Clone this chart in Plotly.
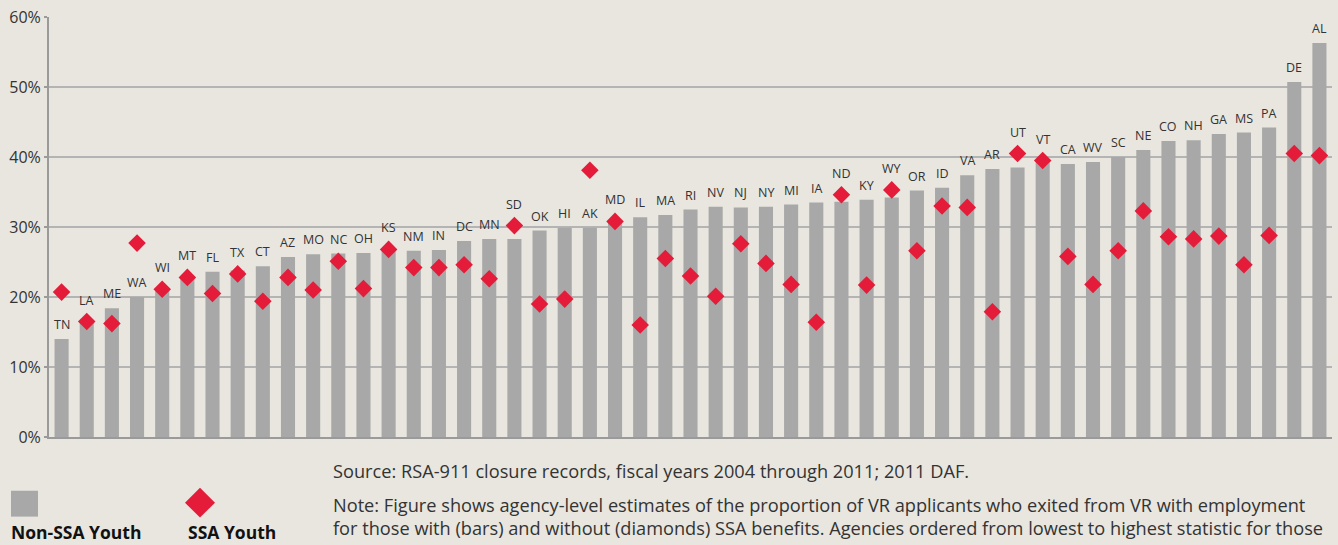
import plotly.graph_objects as go

states = ["TN","LA","ME","WA","WI","MT","FL","TX","CT","AZ","MO","NC","OH","KS","NM","IN",
          "DC","MN","SD","OK","HI","AK","MD","IL","MA","RI","NV","NJ","NY","MI","IA","ND","KY",
          "WY","OR","ID","VA","AR","UT","VT","CA","WV","SC","NE","CO","NH","GA","MS","PA","DE","AL"]

non_ssa = [14.0,16.6,18.4,20.0,21.2,22.8,23.6,23.8,24.4,25.7,26.1,26.2,26.3,27.0,26.6,26.7,
           28.0,28.3,28.3,29.5,29.9,29.9,30.8,31.4,31.7,32.5,32.9,32.8,32.9,33.2,33.5,33.6,33.9,
           34.2,35.2,35.6,37.4,38.3,38.5,39.6,39.0,39.3,40.0,41.0,42.3,42.4,43.3,43.5,44.2,50.7,56.3]

ssa = [20.7,16.5,16.2,27.7,21.1,22.8,20.5,23.3,19.4,22.8,21.0,25.1,21.2,26.8,24.2,24.2,
       24.6,22.6,30.2,19.0,19.7,38.1,30.8,16.0,25.5,23.0,20.1,27.6,24.8,21.8,16.4,34.6,21.7,
       35.3,26.6,33.0,32.8,17.9,40.5,39.5,25.8,21.8,26.6,32.3,28.6,28.3,28.7,24.6,28.8,40.5,40.2]

y_ticks = [0, 10, 20, 30, 40, 50, 60]
y_tick_text = ["0%", "10%", "20%", "30%", "40%", "50%", "60%"]

legend_labels = ["Non-SSA Youth", "SSA Youth"]
source_text = "Source: RSA-911 closure records, fiscal years 2004 through 2011; 2011 DAF."
note_lines = [
    "Note: Figure shows agency-level estimates of the proportion of VR applicants who exited from VR with employment",
    "for those with (bars) and without (diamonds) SSA benefits. Agencies ordered from lowest to highest statistic for those",
]

BG = "#E8E6DF"
BAR = "#A8A8A8"
RED = "#E41C39"
FONT = "Open Sans"
TXT = "#333333"

W, H = 1338, 545
ml, mr, mt, mb = 49, 6, 15, 108
pw, ph = W - ml - mr, H - mt - mb


def px(xp):
    return (xp - ml) / pw


def py(yp):
    return (H - mb - yp) / ph


fig = go.Figure()
fig.add_trace(go.Bar(x=states, y=non_ssa, marker=dict(color=BAR, line=dict(width=0)),
                     width=0.56, name=legend_labels[0]))
fig.add_trace(go.Scatter(x=states, y=ssa, mode="markers", name=legend_labels[1],
                         marker=dict(symbol="diamond", size=13.5, color=RED, line=dict(width=0))))

annotations = []
for s, b, d in zip(states, non_ssa, ssa):
    if b - 1.5 < d < b + 3.5:
        base, shift = d, 11
    else:
        base, shift = b, 4
    annotations.append(dict(x=s, y=base, xref="x", yref="y", text=s, showarrow=False,
                            yanchor="bottom", yshift=shift,
                            font=dict(family=FONT, size=12.5, color=TXT)))

foot = [(471, source_text), (505, note_lines[0]), (528, note_lines[1])]
for ypix, txt in foot:
    annotations.append(dict(x=px(331), y=py(ypix), xref="paper", yref="paper", text=txt,
                            showarrow=False, xanchor="left", yanchor="middle",
                            font=dict(family=FONT, size=18.2, color=TXT)))

for xpix, lab in [(9, legend_labels[0]), (186, legend_labels[1])]:
    annotations.append(dict(x=px(xpix), y=py(532), xref="paper", yref="paper",
                            text="<b>" + lab + "</b>", showarrow=False,
                            xanchor="left", yanchor="middle",
                            font=dict(family=FONT, size=17.5, color="#111111")))

shapes = [
    dict(type="rect", xref="paper", yref="paper", x0=px(11), x1=px(38), y0=py(517), y1=py(491),
         fillcolor=BAR, line=dict(width=0)),
    dict(type="path", xref="paper", yref="paper",
         path=f"M {px(185)} {py(503)} L {px(200)} {py(488)} L {px(215)} {py(503)} L {px(200)} {py(518)} Z",
         fillcolor=RED, line=dict(width=0)),
]

fig.update_layout(
    width=W, height=H,
    margin=dict(l=ml, r=mr, t=mt, b=mb, pad=0),
    paper_bgcolor=BG, plot_bgcolor=BG,
    showlegend=False,
    annotations=annotations,
    shapes=shapes,
    font=dict(family=FONT, color=TXT),
    xaxis=dict(showticklabels=False, showgrid=False, zeroline=False,
               showline=True, linecolor="#9A9A9A", linewidth=2,
               range=[-0.5, len(states) - 0.5], fixedrange=True),
    yaxis=dict(range=[0, 60], tickvals=y_ticks, ticktext=y_tick_text,
               showgrid=True, gridcolor="#B4B4B4", gridwidth=2,
               zeroline=False, showline=True, linecolor="#9A9A9A", linewidth=2,
               ticks="outside", ticklen=3, tickcolor="#9A9A9A", tickwidth=2,
               tickfont=dict(family=FONT, size=16, color=TXT),
               fixedrange=True),
)

fig.write_html(
    "out.html",
    config={"displayModeBar": False},
    post_script="document.body.style.margin='0';document.body.style.background='#E8E6DF';"
                "document.documentElement.style.overflow='hidden';",
)
